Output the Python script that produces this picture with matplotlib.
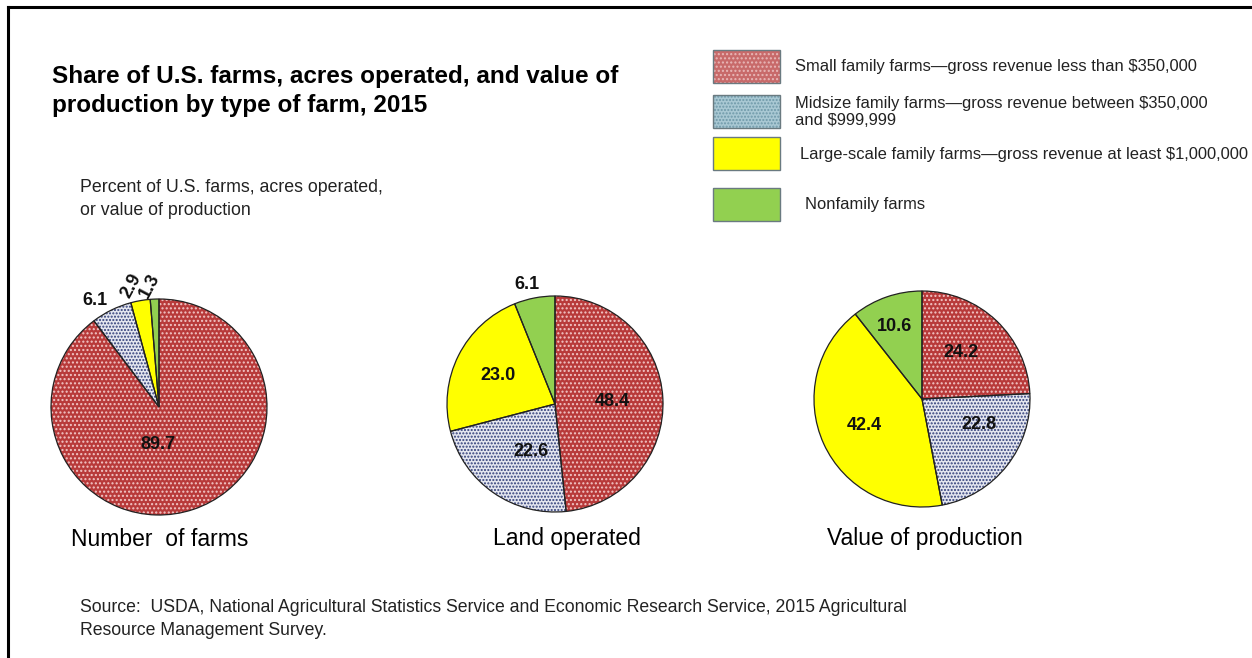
import matplotlib
matplotlib.use("Agg")
import matplotlib.pyplot as plt
from matplotlib.patches import Rectangle
from matplotlib.lines import Line2D
import numpy as np

plt.rcParams['font.family'] = ['Liberation Sans', 'DejaVu Sans']
plt.rcParams['hatch.linewidth'] = 1.0

# data
categories = ['Small family farms\u2014gross revenue less than $350,000',
              'Midsize family farms\u2014gross revenue between $350,000\nand $999,999',
              'Large-scale family farms\u2014gross revenue at least $1,000,000',
              'Nonfamily farms']
farms = [89.7, 6.1, 2.9, 1.3]
land = [48.4, 22.6, 23.0, 6.1]
value = [24.2, 22.8, 42.4, 10.6]
pie_titles = ['Number  of farms', 'Land operated', 'Value of production']

face = ['#B83A3A', '#E4E6EF', '#FFFF00', '#92D050']
hatchc = ['#F2C6C6', '#2E3C78', '#FFFF00', '#92D050']
hatches = ['....', '.....', '', '']

W, H = 1252, 658
fig = plt.figure(figsize=(W / 100, H / 100), dpi=100)

def px(x, y):
    return x / W, 1 - y / H

# label placement: (radius, angle tweak in degrees, rotation)
label_cfg = [
    [(0.35, -20, 0), (1.15, 5, 0), (1.15, 3, 62), (1.13, 2, 62)],
    [(0.53, 0, 0), (0.49, 8, 0), (0.59, 0, 0), (1.14, 2, 0)],
    [(0.56, 4, 0), (0.58, 14, 0), (0.59, 0, 0), (0.72, 2, 0)],
]
centers = [(159, 407), (555, 404), (922, 399)]
R = 108

for k, vals in enumerate([farms, land, value]):
    cx, cy = centers[k]
    l, b = px(cx - R, cy + R)
    ax = fig.add_axes([l, b, 2 * R / W, 2 * R / H])
    wedges, _ = ax.pie(vals, startangle=90, counterclock=False, colors=face,
                       wedgeprops=dict(linewidth=0))
    for w, hc, h in zip(wedges, hatchc, hatches):
        w.set_hatch(h)
        w.set_edgecolor(hc)
    outl, _ = ax.pie(vals, startangle=90, counterclock=False,
                     wedgeprops=dict(fill=False, edgecolor='#222222', linewidth=0.9))
    for w, v, (r, da, rot) in zip(wedges, vals, label_cfg[k]):
        ang = np.deg2rad((w.theta1 + w.theta2) / 2 + da)
        ax.text(r * np.cos(ang), r * np.sin(ang), f'{v:.1f}', ha='center', va='center',
                fontsize=13, fontweight='bold', rotation=rot, color='#111111')
    ax.set_xlim(-1, 1)
    ax.set_ylim(-1, 1)
    ax.set_aspect('equal')
    ax.axis('off')

# pie titles
for t, x in zip(pie_titles, [160, 567, 925]):
    fig.text(*px(x, 539), t, ha='center', va='center', fontsize=16.5)

# title and subtitle
fig.text(*px(52, 91), 'Share of U.S. farms, acres operated, and value of\nproduction by type of farm, 2015',
         fontsize=17.5, fontweight='bold', va='center', ha='left', linespacing=1.3)
fig.text(*px(80, 199), 'Percent of U.S. farms, acres operated,\nor value of production',
         fontsize=12.8, va='center', ha='left', color='#222222', linespacing=1.4)

# legend
sw_y = [50, 95, 137, 188]
txt = [(795, 67), (795, 112), (800, 154), (805, 204)]
sw_face = ['#C86A6A', '#A9C8D3', '#FFFF00', '#92D050']
sw_hc = ['#E8B8B8', '#6E98A8', '#FFFF00', '#92D050']
for i in range(4):
    x0, y0 = px(713, sw_y[i] + 33)
    r = Rectangle((x0, y0), 67 / W, 33 / H, transform=fig.transFigure,
                  facecolor=sw_face[i], edgecolor=sw_hc[i], hatch=hatches[i], lw=0)
    fig.add_artist(r)
    r2 = Rectangle((x0, y0), 67 / W, 33 / H, transform=fig.transFigure,
                   fill=False, edgecolor='#6A7A80', lw=1)
    fig.add_artist(r2)
    fig.text(*px(*txt[i]), categories[i], fontsize=11.9, va='center', ha='left',
             color='#222222', linespacing=1.2)

# source
fig.text(*px(80, 619), 'Source:  USDA, National Agricultural Statistics Service and Economic Research Service, 2015 Agricultural\n'
         'Resource Management Survey.', fontsize=12.7, va='center', ha='left', color='#222222',
         linespacing=1.4)

# frame (top and left)
fig.add_artist(Line2D([8 / W, 1], [1 - 7 / H, 1 - 7 / H], color='black', lw=2.2,
                      transform=fig.transFigure))
fig.add_artist(Line2D([8 / W, 8 / W], [1 - 7 / H, 0], color='black', lw=2.2,
                      transform=fig.transFigure))

fig.savefig('out.png', dpi=100, facecolor='white')
